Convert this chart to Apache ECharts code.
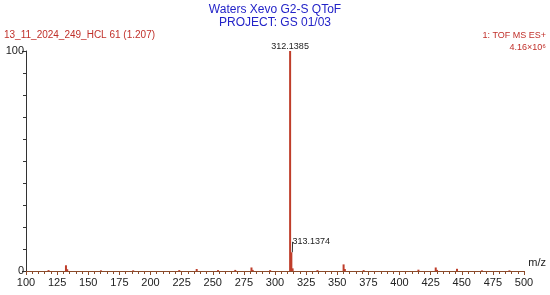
<!DOCTYPE html>
<html><head><meta charset="utf-8">
<script src="https://cdn.jsdelivr.net/npm/echarts@6/dist/echarts.min.js"></script>
<style>html,body{margin:0;padding:0;background:#fff}#c{width:550px;height:295px}</style>
</head><body><div id="c"></div>
<script>
const mz = [118.1, 132.1, 133.1, 160.2, 186.1, 223.1, 237.1, 254.2, 268.1, 281.1, 282.1, 296.1, 312.1385, 313.1374, 314.14, 334.1, 355.1, 356.1, 371.2, 415.2, 429.1, 430.1, 446.2, 466.2, 488.3];
const intensity = [0.4, 2.6, 0.8, 0.3, 0.3, 0.4, 0.9, 0.4, 0.5, 1.6, 0.5, 0.4, 100, 8.5, 1.2, 0.4, 3.0, 0.9, 0.4, 0.6, 1.6, 0.5, 1.0, 0.3, 0.3];
const labeledPeaks = ["312.1385", "313.1374"];
const xTicks = [100, 125, 150, 175, 200, 225, 250, 275, 300, 325, 350, 375, 400, 425, 450, 475, 500];

const peakColor = '#bf3d2a';
const data = mz.map((m, i) => {
  const item = { value: [m, intensity[i]] };
  const idx = labeledPeaks.indexOf(String(m));
  if (idx === 0) {
    item.label = { show: true, position: 'top', formatter: labeledPeaks[0], distance: 0 };
  } else if (idx === 1) {
    item.label = { show: true, position: 'top', formatter: labeledPeaks[1], distance: 0 };
    item.labelLine = { show: true, lineStyle: { color: '#333', width: 1 }, smooth: false };
  }
  return item;
});
const secondIdx = mz.indexOf(Number(labeledPeaks[1]));

const chart = echarts.init(document.getElementById('c'), null, { renderer: 'canvas' });
const font = 'Liberation Sans, Arial, sans-serif';
const ts = (c, s) => ({ color: c, fontSize: s, fontWeight: 'normal', fontFamily: font });
chart.setOption({
  animation: false,
  textStyle: { fontFamily: font },
  title: [
    { text: 'Waters Xevo G2-S QToF', left: 'center', top: 4, padding: 0, textStyle: ts('#2323c8', 12) },
    { text: 'PROJECT: GS 01/03', left: 'center', top: 17, padding: 0, textStyle: ts('#2323c8', 12) },
    { text: '13_11_2024_249_HCL 61 (1.207)', left: 4, top: 30, padding: 0, textStyle: ts('#c0302a', 10) },
    { text: '1: TOF MS ES+', right: 4, top: 31, padding: 0, textStyle: ts('#c0302a', 9) },
    { text: '4.16×10⁶', right: 4, top: 43, padding: 0, textStyle: ts('#c0302a', 9) },
    { text: 'm/z', right: 4, top: 257, padding: 0, textStyle: ts('#222', 11) }
  ],
  grid: { left: 26, right: 26, top: 51, bottom: 24, containLabel: false, outerBoundsMode: 'none' },
  xAxis: {
    type: 'value', min: 100, max: 500, interval: 25,
    axisLine: { show: true, lineStyle: { color: '#8a4a2a', width: 1 } },
    axisTick: { show: true, length: 4, lineStyle: { color: '#8a4a2a' } },
    minorTick: { show: true, splitNumber: 5, length: 3, lineStyle: { color: '#8a4a2a' } },
    axisLabel: { color: '#222', fontSize: 11, margin: 6, fontFamily: font },
    splitLine: { show: false }
  },
  yAxis: {
    type: 'value', min: 0, max: 100, interval: 100,
    name: '%', nameLocation: 'middle', nameGap: 2, nameRotate: 90,
    nameTextStyle: { color: '#222', fontSize: 11, fontFamily: font },
    axisLine: { show: true, lineStyle: { color: '#333', width: 1 } },
    axisTick: { show: true, length: 4, lineStyle: { color: '#333' } },
    minorTick: { show: true, splitNumber: 10, length: 3, lineStyle: { color: '#333' } },
    axisLabel: { color: '#222', fontSize: 11, margin: 2, fontFamily: font },
    splitLine: { show: false }
  },
  series: [{
    type: 'bar',
    data: data,
    barWidth: 2,
    itemStyle: { color: peakColor },
    label: { color: '#222', fontSize: 9, fontFamily: font },
    labelLine: { lineStyle: { color: '#333' } },
    labelLayout: function (p) {
      if (p.dataIndex === secondIdx) {
        return { dx: 20, dy: -6 };
      }
      return {};
    },
    z: 3
  }]
});
</script>
</body></html>
